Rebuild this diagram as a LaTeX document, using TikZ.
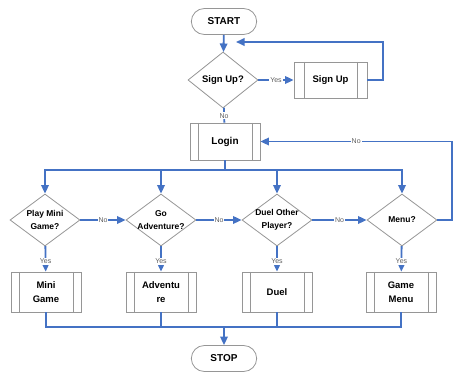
\documentclass[tikz,border=0pt]{standalone}
\usepackage{fontspec}
\setmainfont{Liberation Sans}
\usepackage{tikz}
\definecolor{flowblue}{RGB}{68, 114, 196}
\definecolor{shapegray}{RGB}{150, 150, 150}
\definecolor{labelgray}{RGB}{95, 95, 95}
\usetikzlibrary{shapes.geometric}
\usetikzlibrary{shapes.misc}
\usetikzlibrary{arrows.meta}

\begin{document}
\begin{tikzpicture}[
terminal/.style={rounded rectangle, minimum width=72pt, minimum height=26pt, fill=white, line width=0.8pt, draw=shapegray, font=\bfseries\fontsize{10}{12}\selectfont},
decision/.style={diamond, minimum width=70pt, minimum height=52pt, inner sep=0pt, fill=white, line width=0.8pt, draw=shapegray},
dtext/.style={align=center, font=\bfseries\fontsize{8.5}{13}\selectfont},
process/.style={rectangle, minimum width=70pt, minimum height=40pt, fill=white, line width=0.8pt, draw=shapegray, align=center, font=\bfseries\fontsize{9.5}{14.5}\selectfont,
  path picture={\draw [shapegray, line width=0.8pt] ([xshift=#1]path picture bounding box.north west) -- ([xshift=#1]path picture bounding box.south west);
                \draw [shapegray, line width=0.8pt] ([xshift=-#1]path picture bounding box.north east) -- ([xshift=-#1]path picture bounding box.south east);}},
process/.default=8pt,
flow/.style={line width=1.8pt, color=flowblue},
arrow/.style={flow, -{Triangle[length=8.5pt, width=7.5pt]}},
tag/.style={fill=white, inner sep=1pt, text=labelgray, font=\fontsize{7}{8}\selectfont}
]
\useasboundingbox (0pt, 0pt) rectangle (453pt, -374pt);
\node (start) [terminal] at (224pt, -21.5pt) {START};
\node (signq) [decision, minimum height=56pt, label={[dtext, font=\bfseries\fontsize{9.5}{12}\selectfont]center:Sign Up?}] at (223pt, -80pt) {};
\node (signbox) [process=10pt, minimum width=73pt, minimum height=36pt] at (330.5pt, -80pt) {Sign Up};
\node (login) [process, minimum height=37pt, font=\bfseries\fontsize{10}{12}\selectfont] at (225pt, -141.5pt) {Login};
\node (play) [decision, label={[dtext]center:Play Mini\\Game?}] at (45pt, -220pt) {};
\node (adv) [decision, label={[dtext]center:Go\\Adventure?}] at (161pt, -220pt) {};
\node (duel) [decision, label={[dtext]center:Duel Other\\Player?}] at (277pt, -220pt) {};
\node (menu) [decision, label={[dtext]center:Menu?}] at (402pt, -220pt) {};
\node (minigame) [process] at (46pt, -292pt) {Mini\\Game};
\node (adventure) [process] at (161pt, -292pt) {Adventu\\re};
\node (duelbox) [process] at (277pt, -292pt) {Duel};
\node (gamemenu) [process] at (401pt, -292pt) {Game\\Menu};
\node (stop) [terminal] at (224pt, -358.5pt) {STOP};
\coordinate (looptop) at (383pt, -42pt);
\coordinate (loopend) at (236pt, -42pt);
\coordinate (rightrail) at (452pt, -141.5pt);
\coordinate (topbus) at (225pt, -170pt);
\coordinate (lowbus) at (224pt, -327pt);
\draw [arrow] (start) to (signq);
\draw [arrow] (signq) to node [tag] {Yes} (signbox);
\draw [arrow] (signbox.east) -| (looptop) -- (loopend);
\draw [flow] (signq) to node [tag, pos=0.55] {No} (login);
\draw [arrow] (login.south) -- (topbus) -| (play.north);
\draw [arrow] (login.south) -- (topbus) -| (adv.north);
\draw [arrow] (login.south) -- (topbus) -| (duel.north);
\draw [arrow] (login.south) -- (topbus) -| (menu.north);
\draw [arrow] (play) to node [tag] {No} (adv);
\draw [arrow] (adv) to node [tag] {No} (duel);
\draw [arrow] (duel) to node [tag] {No} (menu);
\draw [arrow] (menu.east) -| (rightrail) -- node [tag] {No} (login.east);
\draw [arrow] (play) to node [tag, pos=0.6] {Yes} (minigame);
\draw [arrow] (adv) to node [tag, pos=0.6] {Yes} (adventure);
\draw [arrow] (duel) to node [tag, pos=0.6] {Yes} (duelbox);
\draw [arrow] (menu) to node [tag, pos=0.6] {Yes} (gamemenu);
\draw [flow] (minigame.south) |- (lowbus) -| (gamemenu.south);
\draw [flow] (adventure.south) -- (adventure.south |- lowbus);
\draw [flow] (duelbox.south) -- (duelbox.south |- lowbus);
\draw [arrow] (lowbus) -- (stop.north);
\end{tikzpicture}
\end{document}
